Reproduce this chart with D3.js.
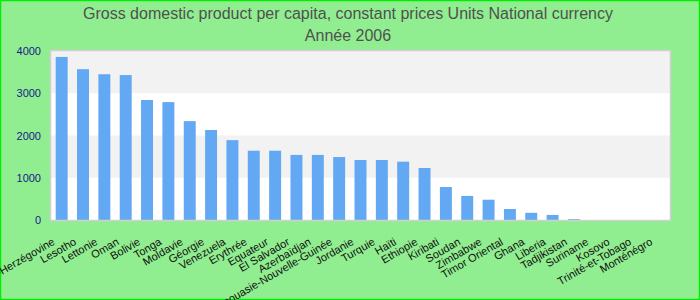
<!DOCTYPE html>
<html>
<head>
<meta charset="utf-8">
<script src="https://cdn.jsdelivr.net/npm/d3@7"></script>
<style>
  html, body { margin: 0; padding: 0; background: #90ee90; }
  svg { display: block; }
</style>
</head>
<body>
<svg id="chart" width="700" height="300"></svg>
<script>
const titleLines = ["Gross domestic product per capita, constant prices Units National currency", "Année 2006"];
const categories = ["Bosnie-Herzégovine", "Lesotho", "Lettonie", "Oman", "Bolivie", "Tonga", "Moldavie", "Géorgie", "Venezuela", "Erythrée", "Equateur", "El Salvador", "Azerbaïdjan", "Papouasie-Nouvelle-Guinée", "Jordanie", "Turquie", "Haïti", "Ethiopie", "Kiribati", "Soudan", "Zimbabwe", "Timor Oriental", "Ghana", "Liberia", "Tadjikistan", "Suriname", "Kosovo", "Trinité-et-Tobago", "Monténégro"];
const values = [3860, 3570, 3450, 3430, 2840, 2790, 2340, 2130, 1890, 1640, 1640, 1540, 1540, 1490, 1420, 1420, 1380, 1230, 780, 570, 480, 260, 170, 120, 20, 0, 0, 0, 0];
const yTicks = [0, 1000, 2000, 3000, 4000];

const svg = d3.select("#chart");
const W = 700, H = 300;
const m = { left: 51, right: 30, top: 51, bottom: 80 };

svg.append("rect").attr("x", 0.5).attr("y", 0.5).attr("width", W - 1).attr("height", H - 1)
  .attr("fill", "#90ee90").attr("stroke", "#00ee00").attr("stroke-width", 1.5);

const x = d3.scaleBand().domain(categories).range([m.left, W - m.right]).paddingInner(0.44).paddingOuter(0.22);
const y = d3.scaleLinear().domain([0, 4000]).range([H - m.bottom, m.top]);

// plot background with bands
svg.append("rect").attr("x", m.left).attr("y", m.top).attr("width", W - m.right - m.left).attr("height", H - m.bottom - m.top)
  .attr("fill", "#ffffff");
const bands = d3.pairs(yTicks).filter((d, i) => i % 2 === 1);
svg.append("g").selectAll("rect").data(bands).join("rect")
  .attr("x", m.left).attr("width", W - m.right - m.left)
  .attr("y", d => y(d[1])).attr("height", d => y(d[0]) - y(d[1]))
  .attr("fill", "#f2f2f2");

// bars
svg.append("g").selectAll("rect").data(values).join("rect")
  .attr("x", (d, i) => x(categories[i]))
  .attr("width", x.bandwidth())
  .attr("y", d => y(d))
  .attr("height", d => y(0) - y(d))
  .attr("fill", "#62a8f3");

// plot border
svg.append("rect").attr("x", m.left - 0.5).attr("y", m.top - 0.5).attr("width", W - m.right - m.left + 1).attr("height", H - m.bottom - m.top + 1)
  .attr("fill", "none").attr("stroke", "#d0d0d0").attr("stroke-width", 1.5);

// y axis
const yAxis = svg.append("g").attr("transform", `translate(${m.left - 10},0)`)
  .call(d3.axisLeft(y).tickValues(yTicks).tickSize(0).tickPadding(0).tickFormat(d3.format("d")));
yAxis.select(".domain").remove();
yAxis.selectAll("text").attr("fill", "#1a1a8a").style("font-family", "'Liberation Sans', Arial, sans-serif").style("font-size", "11px");

// x axis labels
const xAxis = svg.append("g").attr("transform", `translate(0,${H - m.bottom})`)
  .call(d3.axisBottom(x).tickSize(0).tickPadding(0));
xAxis.select(".domain").remove();
xAxis.selectAll("text")
  .attr("fill", "#111")
  .style("font-family", "'Liberation Sans', Arial, sans-serif").style("font-size", "11px")
  .attr("text-anchor", "end")
  .attr("dy", null).attr("y", 0)
  .attr("transform", "translate(-6,24) rotate(-30)");

// title
svg.append("g").selectAll("text").data(titleLines).join("text")
  .attr("x", 348).attr("y", (d, i) => 19 + i * 22)
  .attr("text-anchor", "middle")
  .attr("fill", "#505050")
  .style("font-family", "'Liberation Sans', Arial, sans-serif").style("font-size", "16px")
  .text(d => d);
</script>
</body>
</html>
